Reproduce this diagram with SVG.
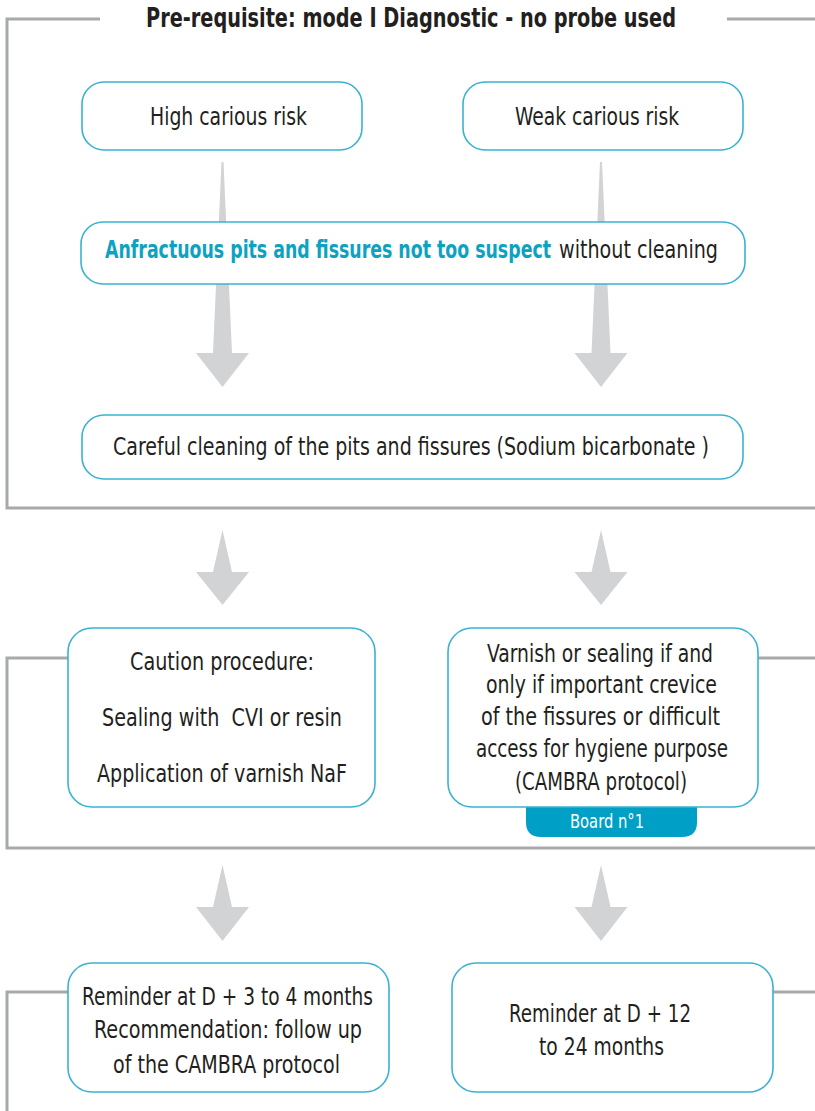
<svg xmlns="http://www.w3.org/2000/svg" width="815" height="1111" viewBox="0 0 815 1111">
<style>
.frame{fill:none;stroke:#a7a9ac;stroke-width:3}
.box{fill:#fff;stroke:#3ab2d2;stroke-width:1.6}
.arrow{fill:#d2d3d5}
.t{font-family:"DejaVu Sans Condensed","Liberation Sans",sans-serif;font-size:24px;fill:#231f20}
.title{font-family:"DejaVu Sans Condensed","Liberation Sans",sans-serif;font-size:26px;font-weight:bold;fill:#231f20}
.hl{font-weight:bold;fill:#0ea2c2}
.tab{font-family:"DejaVu Sans Condensed","Liberation Sans",sans-serif;font-size:20px;fill:#ffffff}
</style>
<rect width="815" height="1111" fill="#fff"/>
<g id="frames">
<path class="frame" d="M100,19 H7 V508 H815 M727,19 H815"/>
<path class="frame" d="M68,658 H7 V848 H815 M758,658 H815"/>
<path class="frame" d="M68,992 H7 V1111 M773,992 H815"/>
</g>
<text class="title" x="146" y="27" textLength="530" lengthAdjust="spacingAndGlyphs">Pre-requisite: mode I Diagnostic - no probe used</text>
<g id="connectors">
<polygon class="arrow" points="221.5,162 223.5,162 232,353 249,353 222.5,387 196,353 213,353"/>
<polygon class="arrow" points="600,162 602,162 610.5,353 627.5,353 601,387 574.5,353 591.5,353"/>
<polygon class="arrow" points="222.5,530 232,572 249,572 222.5,605 196,572 213,572"/>
<polygon class="arrow" points="601,530 610.5,572 627.5,572 601,605 574.5,572 591.5,572"/>
<polygon class="arrow" points="222.5,865 232,907 249,907 222.5,941 196,907 213,907"/>
<polygon class="arrow" points="601,865 610.5,907 627.5,907 601,941 574.5,907 591.5,907"/>
</g>
<g id="high">
<rect class="box" x="82" y="82" width="280" height="68" rx="22"/>
<text class="t" x="150" y="125" textLength="157" lengthAdjust="spacingAndGlyphs">High carious risk</text>
</g>
<g id="weak">
<rect class="box" x="463" y="82" width="280" height="68" rx="22"/>
<text class="t" x="515" y="125" textLength="164" lengthAdjust="spacingAndGlyphs">Weak carious risk</text>
</g>
<g id="anfractuous">
<rect class="box" x="81" y="222" width="664" height="62" rx="22"/>
<text class="t" y="258"><tspan class="hl" x="105" textLength="446" lengthAdjust="spacingAndGlyphs">Anfractuous pits and fissures not too suspect</tspan><tspan x="559" textLength="159" lengthAdjust="spacingAndGlyphs">without cleaning</tspan></text>
</g>
<g id="cleaning">
<rect class="box" x="82" y="415" width="661" height="64" rx="22"/>
<text class="t" x="113" y="455" textLength="596" lengthAdjust="spacingAndGlyphs">Careful cleaning of the pits and fissures (Sodium bicarbonate )</text>
</g>
<g id="caution">
<rect class="box" x="68" y="628" width="307" height="179" rx="24"/>
<text class="t" x="130" y="670" textLength="184" lengthAdjust="spacingAndGlyphs">Caution procedure:</text>
<text class="t" x="102" y="726" textLength="240" lengthAdjust="spacingAndGlyphs">Sealing with &#160;CVI or resin</text>
<text class="t" x="97" y="782" textLength="250" lengthAdjust="spacingAndGlyphs">Application of varnish NaF</text>
</g>
<g id="varnish">
<path d="M526,800 H697 V822 Q697,837 682,837 H541 Q526,837 526,822 Z" fill="#00a0c6"/>
<text class="tab" x="570" y="828" textLength="74" lengthAdjust="spacingAndGlyphs">Board n°1</text>
<rect class="box" x="448" y="628" width="310" height="179" rx="24"/>
<text class="t" x="487" y="662" textLength="226" lengthAdjust="spacingAndGlyphs">Varnish or sealing if and</text>
<text class="t" x="486" y="693" textLength="231" lengthAdjust="spacingAndGlyphs">only if important crevice</text>
<text class="t" x="481" y="725" textLength="239" lengthAdjust="spacingAndGlyphs">of the fissures or difficult</text>
<text class="t" x="476" y="757" textLength="252" lengthAdjust="spacingAndGlyphs">access for hygiene purpose</text>
<text class="t" x="515" y="790" textLength="172" lengthAdjust="spacingAndGlyphs">(CAMBRA protocol)</text>
</g>
<g id="reminder1">
<rect class="box" x="68" y="963" width="321" height="129" rx="24"/>
<text class="t" x="82" y="1005" textLength="291" lengthAdjust="spacingAndGlyphs">Reminder at D + 3 to 4 months</text>
<text class="t" x="94" y="1038" textLength="268" lengthAdjust="spacingAndGlyphs">Recommendation: follow up</text>
<text class="t" x="113" y="1073" textLength="227" lengthAdjust="spacingAndGlyphs">of the CAMBRA protocol</text>
</g>
<g id="reminder2">
<rect class="box" x="452" y="963" width="321" height="129" rx="24"/>
<text class="t" x="509" y="1022" textLength="182" lengthAdjust="spacingAndGlyphs">Reminder at D + 12</text>
<text class="t" x="539" y="1055" textLength="125" lengthAdjust="spacingAndGlyphs">to 24 months</text>
</g>
</svg>
